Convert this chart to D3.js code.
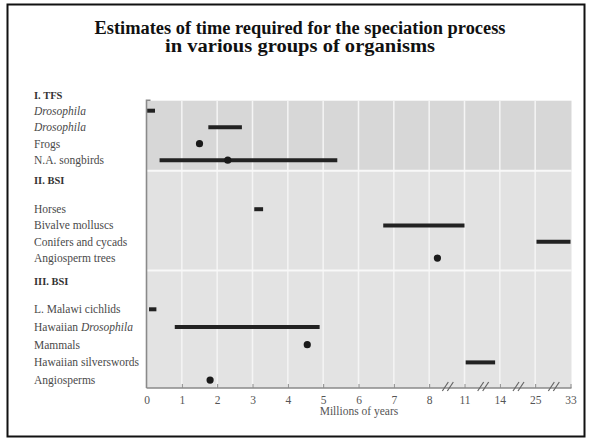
<!DOCTYPE html>
<html><head><meta charset="utf-8">
<script src="https://cdn.jsdelivr.net/npm/d3@7"></script>
<style>html,body{margin:0;padding:0;background:#fff}</style>
</head><body>
<script>
// ---- data ----
const groups = ["I. TFS", "II. BSI", "III. BSI"];
const organisms = ["Drosophila", "Drosophila", "Frogs", "N.A. songbirds",
  "Horses", "Bivalve molluscs", "Conifers and cycads", "Angiosperm trees",
  "L. Malawi cichlids", "Hawaiian Drosophila", "Mammals", "Hawaiian silverswords", "Angiosperms"];
const groupIndex = [0,0,0,0, 1,1,1,1, 2,2,2,2,2];
const rangeStart = [0.02, 1.75, null, 0.37, 3.05, 6.7, 25.3, null, 0.07, 0.8, null, 11.1, null];
const rangeEnd   = [0.24, 2.7,  null, 5.4,  3.3, 11,  33,   null, 0.28, 4.9, null, 13.6, null];
const pointEstimate = [null, null, 1.5, 2.3, null, null, null, 8.7, null, null, 4.55, null, 1.8];
const tickValues = [0,1,2,3,4,5,6,7,8,11,14,25,33];
const breakAfter = [8, 11, 14, 25];
const titleLines = ["Estimates of time required for the speciation process", "in various groups of organisms"];
const xLabel = "Millions of years";

// ---- layout ----
const W = 592, H = 444;
const svg = d3.select("body").append("svg").attr("width", W).attr("height", H)
  .style("font-family", "'Liberation Serif', 'DejaVu Serif', serif");

svg.append("rect").attr("x", 7.5).attr("y", 4.5).attr("width", 577).attr("height", 432)
  .attr("fill", "none").attr("stroke", "#111").attr("stroke-width", 2);

const titleWidths = [411, 270];
svg.selectAll("text.title").data(titleLines).join("text")
  .attr("x", 300).attr("y", (d, i) => 33.5 + i * 18.5)
  .attr("text-anchor", "middle").attr("font-weight", "bold").attr("font-size", 18.5)
  .attr("textLength", (d, i) => titleWidths[i]).attr("lengthAdjust", "spacingAndGlyphs")
  .attr("fill", "#111").text(d => d);

const plotLeft = 146.5, plotRight = 571.5, plotTop = 100.7, plotBottom = 388;
// piecewise x-scale: tick values evenly spaced after the breaks
const x = d3.scaleLinear()
  .domain(tickValues)
  .range(tickValues.map((d, i) => plotLeft + i * (570.5 - plotLeft) / (tickValues.length - 1)));

const groupBands = [
  {top: plotTop, bottom: 170.7, header: 95.7, rows: [110.7, 160.2], fill: "#d7d7d7"},
  {top: 170.7, bottom: 270.5, header: 180.2, rows: [209.2, 258.1], fill: "#e2e2e2"},
  {top: 270.5, bottom: plotBottom, header: 281.7, rows: [309.3, 380.1], fill: "#e3e3e3"}
];
const yScales = groupBands.map((g, gi) => {
  const idx = organisms.map((o, i) => i).filter(i => groupIndex[i] === gi);
  return d3.scalePoint().domain(idx).range(g.rows);
});
const y = i => yScales[groupIndex[i]](i);

// bands
svg.selectAll("rect.band").data(groupBands).join("rect")
  .attr("x", plotLeft).attr("y", d => d.top).attr("width", plotRight - plotLeft)
  .attr("height", d => d.bottom - d.top).attr("fill", d => d.fill);

// vertical grid
svg.selectAll("line.grid").data(tickValues.filter(v => v > 0 && v < 33)).join("line")
  .attr("x1", d => x(d)).attr("x2", d => x(d)).attr("y1", plotTop).attr("y2", plotBottom)
  .attr("stroke", "#f5f5f5").attr("stroke-width", 1.5);

// band separators
svg.selectAll("line.sep").data(groupBands.slice(1)).join("line")
  .attr("x1", plotLeft).attr("x2", plotRight).attr("y1", d => d.top).attr("y2", d => d.top)
  .attr("stroke", "#f8f8f8").attr("stroke-width", 2);

// axes
const axisColor = "#8a8a8a";
svg.append("path").attr("d", `M${plotLeft + 4},${plotTop - 0.5}H${plotLeft}V${plotBottom}`)
  .attr("fill", "none").attr("stroke", axisColor).attr("stroke-width", 1.6);
const xAxis = d3.axisBottom(x).tickValues(tickValues).tickSize(-4).tickPadding(8)
  .tickFormat(d3.format("d"));
const gx = svg.append("g").attr("transform", `translate(0,${plotBottom})`).call(xAxis);
gx.select(".domain").attr("d", `M${plotLeft},0H${plotRight}`).attr("stroke", axisColor).attr("stroke-width", 1.6);
gx.selectAll(".tick line").attr("stroke", axisColor).attr("stroke-width", 1);
gx.selectAll(".tick text").attr("font-family", "'Liberation Serif', serif").attr("font-size", 11.5).attr("fill", "#555");
gx.selectAll(".tick").filter(d => d === 0).select("line").remove();

// break marks
breakAfter.forEach(b => {
  const i = tickValues.indexOf(b);
  const cx = (x(tickValues[i]) + x(tickValues[i + 1])) / 2 + 1;
  [-2.5, 2.5].forEach(dx => {
    svg.append("line")
      .attr("x1", cx + dx - 3).attr("y1", plotBottom + 3)
      .attr("x2", cx + dx + 3).attr("y2", plotBottom - 6)
      .attr("stroke", "#666").attr("stroke-width", 1.2);
  });
});

svg.append("text").attr("x", (plotLeft + plotRight) / 2).attr("y", 415)
  .attr("text-anchor", "middle").attr("font-size", 11.5).attr("fill", "#555").text(xLabel);

// labels
svg.selectAll("text.gh").data(groups).join("text")
  .attr("x", 34).attr("y", (d, i) => groupBands[i].header + 3.5)
  .attr("font-size", 10.5).attr("font-weight", "bold").attr("fill", "#333").text(d => d);

const labels = svg.selectAll("text.lab").data(organisms).join("text")
  .attr("x", 34).attr("y", (d, i) => y(i) + 3.8)
  .attr("font-size", 11.5).attr("fill", "#4a4a4a");
labels.each(function(d) {
  const t = d3.select(this);
  d.split(/(Drosophila)/).filter(s => s.length).forEach(part => {
    t.append("tspan").text(part).attr("font-style", part === "Drosophila" ? "italic" : null);
  });
});

// marks
const idx = organisms.map((d, i) => i);
svg.selectAll("line.range").data(idx.filter(i => rangeStart[i] != null)).join("line")
  .attr("x1", i => x(rangeStart[i])).attr("x2", i => x(rangeEnd[i]))
  .attr("y1", i => y(i)).attr("y2", i => y(i))
  .attr("stroke", "#222").attr("stroke-width", 4);
svg.selectAll("circle.pt").data(idx.filter(i => pointEstimate[i] != null)).join("circle")
  .attr("cx", i => x(pointEstimate[i])).attr("cy", i => y(i)).attr("r", 3.6)
  .attr("fill", "#1a1a1a");
</script>
</body></html>
